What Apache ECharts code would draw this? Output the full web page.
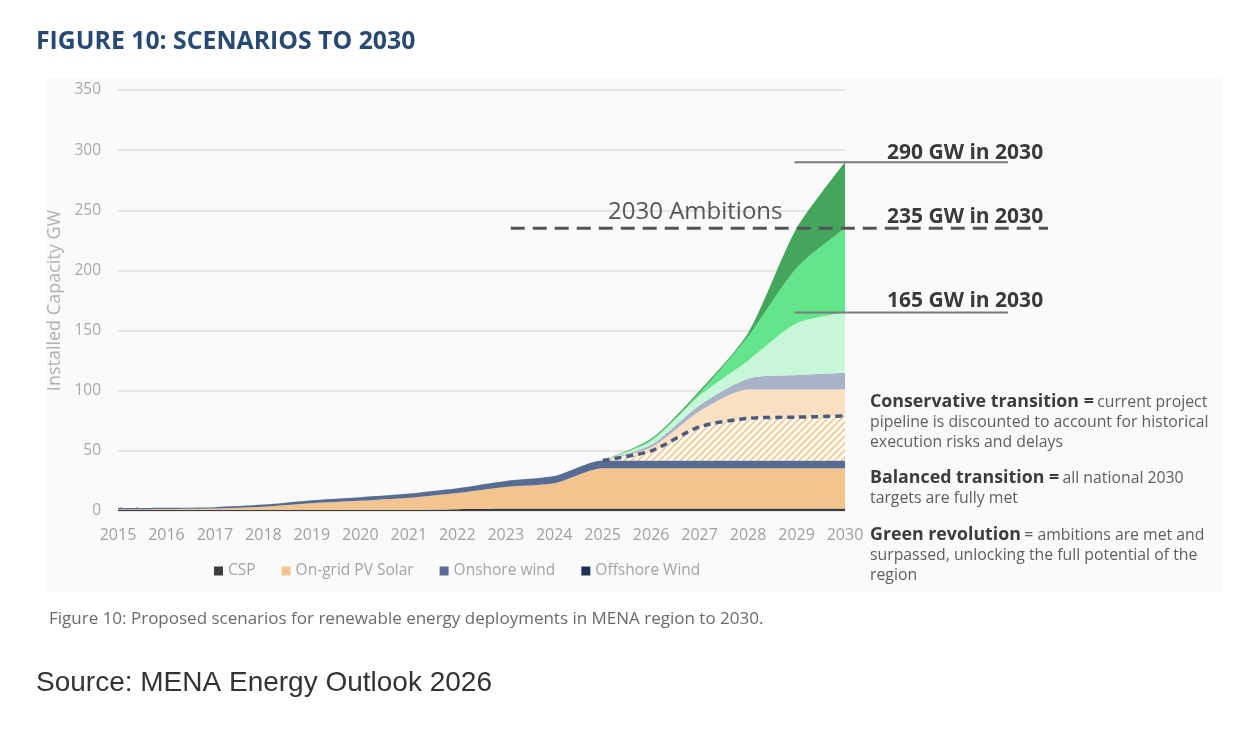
<!DOCTYPE html>
<html>
<head>
<meta charset="utf-8">
<script src="https://cdn.jsdelivr.net/npm/echarts@6/dist/echarts.min.js"></script>
<style>
  html, body { margin: 0; padding: 0; background: #fff; }
  #chart { width: 1256px; height: 736px; }
</style>
</head>
<body>
<div id="chart"></div>
<script>
const years = ['2015','2016','2017','2018','2019','2020','2021','2022','2023','2024','2025','2026','2027','2028','2029','2030'];

// installed capacity by technology (GW)
const csp      = [1, 1, 1, 1, 1, 1, 1, 1.5, 2, 2, 2, 2, 2, 2, 2, 2];
const pvSolar  = [0.3, 0.6, 1, 2.5, 5.5, 7.5, 10, 13.5, 18, 21, 33.5, 33.5, 33.5, 33.5, 33.5, 33.5];
const onshore  = [1, 1, 1.2, 1.8, 2.5, 3, 3.5, 4, 5, 6, 6.5, 6.5, 6.5, 6.5, 6.5, 6.5];
const offshore = [0, 0, 0, 0, 0, 0, 0, 0, 0, 0, 0, 0, 0, 0, 0, 0];

// scenario levels (cumulative GW), 2025..2030
const scenarioYears   = ['2025','2026','2027','2028','2029','2030'];
const conservativeTop = [42, 50, 70, 77, 78, 79];
const pvExtraTop      = [42, 53, 83, 101, 101, 101];
const windExtraTop    = [42, 55, 88, 110, 113, 115];
const balancedTop     = [42, 58, 96, 125, 156, 165];
const ambitionTop     = [42, 59, 98, 145, 202, 235];
const revolutionTop   = [42, 60, 100, 148, 235, 290];

const ambitionLevel = 235;
const callouts = [290, 235, 165];

const font = 'Open Sans, Noto Sans, sans-serif';

// hatch pattern for conservative area
const hatch = document.createElement('canvas');
hatch.width = 7; hatch.height = 7;
const hc = hatch.getContext('2d');
hc.fillStyle = '#fffaf3';
hc.fillRect(0, 0, 7, 7);
hc.strokeStyle = '#f0c994';
hc.lineWidth = 1.7;
hc.beginPath();
hc.moveTo(-1, 8); hc.lineTo(8, -1);
hc.moveTo(-1, 1); hc.lineTo(1, -1);
hc.moveTo(6, 8); hc.lineTo(8, 6);
hc.stroke();

// pad scenario arrays to full year range and turn levels into stack increments
const pad = years.length - scenarioYears.length;
function increments(top, below) {
  return years.map((y, i) => (i < pad ? null : top[i - pad] - below[i - pad]));
}
const baseTop = scenarioYears.map(() => 42);

function areaSeries(name, data, color, extra) {
  return Object.assign({
    name: name,
    type: 'line',
    stack: 'total',
    data: data,
    symbol: 'none',
    smooth: 0.25,
    lineStyle: { width: 0 },
    areaStyle: { color: color, opacity: 1 },
    itemStyle: { color: color },
    emphasis: { disabled: true },
  }, extra || {});
}

const chart = echarts.init(document.getElementById('chart'));

const option = {
  animation: false,
  backgroundColor: '#fff',
  grid: { left: 118, right: 411, top: 90, bottom: 225 },
  legend: {
    data: ['CSP', 'On-grid PV Solar', 'Onshore wind', 'Offshore Wind'],
    left: 209,
    top: 558,
    icon: 'rect',
    itemWidth: 9,
    itemHeight: 9,
    itemGap: 26,
    textStyle: { color: '#a3a3a3', fontSize: 15.5, fontFamily: font },
  },
  xAxis: {
    type: 'category',
    data: years,
    boundaryGap: false,
    axisLine: { show: false },
    axisTick: { show: false },
    axisLabel: { color: '#a0a0a0', fontSize: 16, fontFamily: font, margin: 16 },
  },
  yAxis: {
    type: 'value',
    min: 0,
    max: 350,
    interval: 50,
    name: 'Installed Capacity GW',
    nameLocation: 'middle',
    nameGap: 52,
    nameTextStyle: { color: '#b0b0b0', fontSize: 18, fontFamily: font },
    axisLabel: { color: '#a8a8a8', fontSize: 15.5, fontFamily: font, margin: 17 },
    splitLine: { lineStyle: { color: '#dedede', width: 1.5 } },
  },
  series: [
    areaSeries('CSP', csp, '#3d3d3d'),
    areaSeries('On-grid PV Solar', pvSolar, '#f3c48f'),
    areaSeries('Onshore wind', onshore, '#566c93'),
    areaSeries('Offshore Wind', offshore, '#1c3456'),
    areaSeries('Conservative', increments(conservativeTop, baseTop), { image: hatch, repeat: 'repeat' }, {
      lineStyle: { width: 3.5, type: [7, 5], color: '#4b5b7c' },
    }),
    areaSeries('PV extra', increments(pvExtraTop, conservativeTop), '#f9e0c3'),
    areaSeries('Wind extra', increments(windExtraTop, pvExtraTop), '#a9b3c7'),
    areaSeries('Balanced', increments(balancedTop, windExtraTop), '#c8f6d8'),
    areaSeries('Ambition', increments(ambitionTop, balancedTop), '#63e68b'),
    areaSeries('Revolution', increments(revolutionTop, ambitionTop), '#43a65a'),
  ],
};

chart.setOption(option);

// annotations placed through the chart's own scales
const px = (x, y) => chart.convertToPixel({ xAxisIndex: 0, yAxisIndex: 0 }, [x, y]);
const p2029 = px('2029', 0)[0];
const p2023 = px('2023', 0)[0];
const yOf = (v) => px('2030', v)[1];

const graphic = [
  { type: 'rect', z: -10, silent: true, shape: { x: 47, y: 78, width: 1175, height: 514 }, style: { fill: '#fafafa' } },
  { type: 'text', left: 36, top: 29, style: { text: 'FIGURE 10: SCENARIOS TO 2030', fill: '#284a72', font: 'bold 24.8px ' + font } },
  { type: 'text', left: 49, top: 611, style: { text: 'Figure 10: Proposed scenarios for renewable energy deployments in MENA region to 2030.', fill: '#6a6a6a', font: '17px ' + font } },
  { type: 'text', left: 36, top: 669, style: { text: 'Source: MENA Energy Outlook 2026', fill: '#333', font: '28px Liberation Sans, Arial, sans-serif' } },
  // ambition dashed line
  { type: 'line', z: 50, shape: { x1: p2023 + 5, y1: yOf(ambitionLevel), x2: 1048, y2: yOf(ambitionLevel) },
    style: { stroke: '#555', lineWidth: 3, lineDash: [14, 8] } },
  { type: 'text', z: 50, x: 608, y: yOf(ambitionLevel) - 16, style: { text: '2030 Ambitions', fill: '#555', font: '24px ' + font, textVerticalAlign: 'middle' } },
];

[callouts[0], callouts[2]].forEach((v) => {
  graphic.push({ type: 'line', z: 50, shape: { x1: p2029 - 2, y1: yOf(v), x2: 1008, y2: yOf(v) }, style: { stroke: '#7a7a7a', lineWidth: 2 } });
});
const calloutOffsets = [-9, -11, -12];
callouts.forEach((v, i) => {
  graphic.push({ type: 'text', z: 50, x: 887, y: yOf(v) + calloutOffsets[i],
    style: { text: v + ' GW in 2030', fill: '#3a3a3a', font: 'bold 21px ' + font, textVerticalAlign: 'middle' } });
});

// scenario descriptions
const notes = [
  { y: 402, bold: 'Conservative transition =', lines: ['current project', 'pipeline is discounted to account for historical', 'execution risks and delays'] },
  { y: 478, bold: 'Balanced transition =', lines: ['all national 2030', 'targets are fully met'] },
  { y: 535, bold: 'Green revolution', lines: ['= ambitions are met and', 'surpassed, unlocking the full potential of the', 'region'] },
];
notes.forEach((n) => {
  graphic.push({ type: 'text', x: 870, y: n.y, style: {
    text: '{b|' + n.bold + '} {r|' + n.lines[0] + '}',
    textVerticalAlign: 'middle',
    rich: {
      b: { fill: '#3c3c3c', fontWeight: 'bold', fontSize: 17.8, fontFamily: font },
      r: { fill: '#5e5e5e', fontSize: 15.8, fontFamily: font },
    },
  } });
  n.lines.slice(1).forEach((t, j) => {
    graphic.push({ type: 'text', x: 870, y: n.y + 20 * (j + 1), style: { text: t, fill: '#5e5e5e', font: '15.8px ' + font, textVerticalAlign: 'middle' } });
  });
});

chart.setOption({ graphic: graphic });
</script>
</body>
</html>
